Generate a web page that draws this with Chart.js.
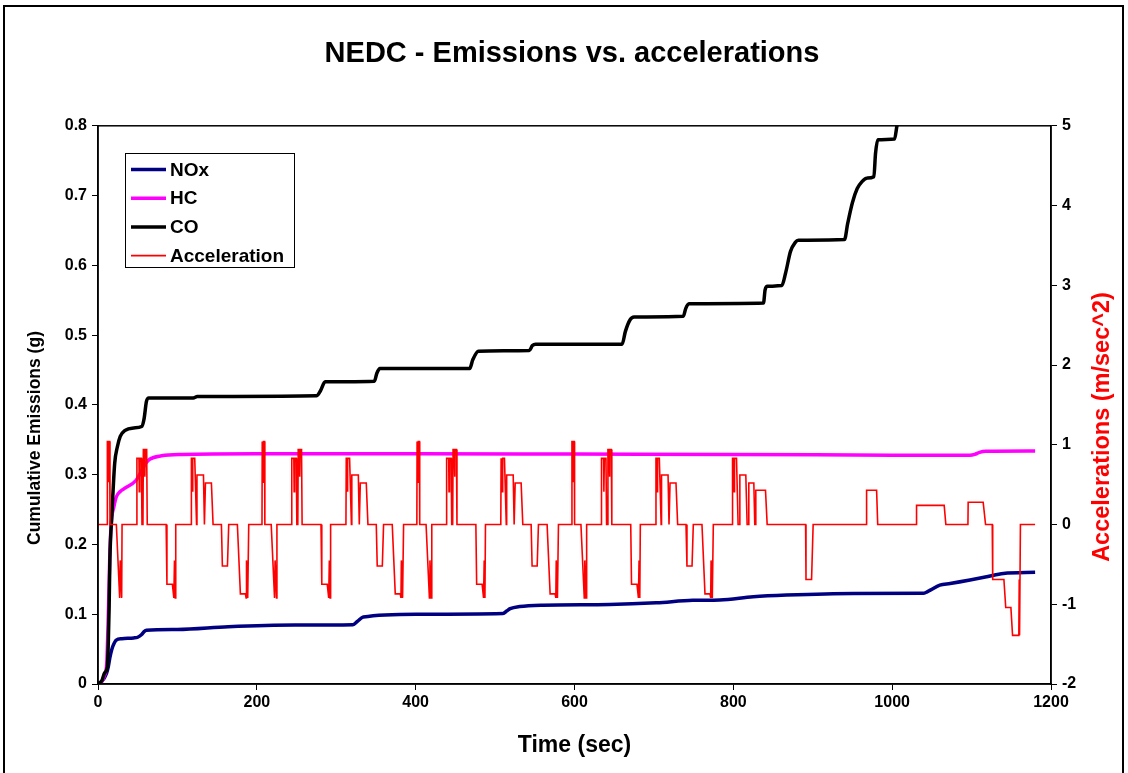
<!DOCTYPE html>
<html>
<head>
<meta charset="utf-8">
<script src="https://cdn.jsdelivr.net/npm/chart.js@4/dist/chart.umd.min.js"></script>
<style>
  html, body { margin: 0; padding: 0; background: #fff; }
</style>
</head>
<body>
<canvas id="myChart" width="1128" height="773"></canvas>
<script>
// cumulative emissions (g) as [time s, value]
const noxData = [[0,0],[5,0.004],[10.6,0.015],[13,0.025],[15,0.038],[17,0.048],[19,0.055],[23,0.063],[30,0.065],[45,0.066],[50,0.067],[55,0.071],[58,0.075],[61,0.077],[100,0.078],[164,0.082],[248,0.0844],[321,0.085],[327,0.09],[334,0.096],[401,0.1],[510,0.101],[515,0.105],[519,0.108],[531,0.111],[560,0.113],[644,0.114],[703,0.1164],[749,0.12],[783,0.1205],[825,0.125],[867,0.1274],[951,0.1298],[1039,0.130],[1044,0.132],[1048,0.1345],[1060,0.1417],[1073,0.144],[1098,0.149],[1119,0.1536],[1140,0.1584],[1180,0.160]];

const hcData = [[0,0],[5,0.004],[8,0.012],[11,0.03],[13,0.1],[15,0.19],[17,0.235],[20,0.254],[23,0.268],[28,0.276],[33,0.28],[48,0.292],[55,0.306],[60,0.316],[65,0.322],[80,0.327],[105,0.329],[200,0.330],[400,0.330],[600,0.3295],[800,0.329],[1000,0.328],[1098,0.3277],[1104,0.329],[1110,0.332],[1118,0.3335],[1180,0.334]];

const coData = [[0,0],[5,0.005],[8.4,0.016],[11.8,0.025],[13,0.06],[14,0.11],[15,0.18],[17.6,0.245],[21,0.316],[24.4,0.34],[28,0.355],[33.6,0.363],[45,0.367],[55,0.369],[58,0.38],[61,0.405],[64,0.41],[120,0.41],[125,0.412],[275,0.413],[280,0.42],[286,0.433],[348,0.434],[351,0.445],[355,0.452],[468,0.452],[472,0.465],[479,0.477],[543,0.478],[547,0.485],[551,0.487],[660,0.487],[664,0.505],[670,0.522],[675,0.526],[737,0.527],[740,0.538],[744,0.545],[838,0.546],[840,0.565],[843,0.57],[861,0.571],[866,0.59],[872,0.62],[878,0.633],[882,0.636],[940,0.637],[944,0.66],[950,0.69],[956,0.71],[962,0.72],[968,0.725],[977,0.727],[979,0.76],[982,0.78],[1003,0.781],[1006,0.8],[1010,0.82],[1040,0.88],[1100,1.0],[1180,1.1]];

// acceleration (m/sec^2) as [time s, value], four ECE cycles then EUDC
const accEce1 = [[0,0],[11.5,0],[11.8,1.04],[12.6,1.04],[13,0.53],[13.4,1.04],[14.7,1.04],[15.1,0],
  [23.1,0],[27.3,-0.92],[28,-0.45],[29.8,-0.92],[30.3,0],
  [48.6,0],[49,0.83],[51.6,0.83],[52,0.41],[52.6,0.83],[54.6,0.83],[55.4,0],[56.6,0],[57.1,0.94],[58.5,0.94],[59,0.6],[59.5,0.94],[61.3,0.94],[62,0],
  [85.8,0],[86.8,-0.75],[93.7,-0.75],[95.5,-0.92],[96.3,-0.45],[97.2,-0.92],[97.9,0],
  [117.2,0],[117.6,0.83],[118.6,0.83],[119,0.41],[119.6,0.83],[121.8,0.83],[124.1,0],[124.6,0.62],[132.8,0.62],[134,0],[135.3,0.52],[142.8,0.52],[144.9,0],
  [155.4,0],[156.6,-0.52],[163,-0.52],[164.6,0],
  [175.5,0],[179.3,-0.87],[185.6,-0.87],[186.5,-0.92],[187,-0.45],[188.5,-0.92],[189.8,0]];
const accEce2 = [[195,0],[206.5,0],[206.8,1.04],[207.6,1.04],[208,0.53],[208.4,1.04],[209.7,1.04],[210.1,0],
  [218.1,0],[222.3,-0.92],[223,-0.45],[224.8,-0.92],[225.3,0],
  [243.6,0],[244,0.83],[246.6,0.83],[247,0.41],[247.6,0.83],[249.6,0.83],[250.4,0],[251.6,0],[252.1,0.94],[253.5,0.94],[254,0.6],[254.5,0.94],[256.3,0.94],[257,0],
  [280.8,0],[281.8,-0.75],[288.7,-0.75],[290.5,-0.92],[291.3,-0.45],[292.2,-0.92],[292.9,0],
  [312.2,0],[312.6,0.83],[313.6,0.83],[314,0.41],[314.6,0.83],[316.8,0.83],[319.1,0],[319.6,0.62],[327.8,0.62],[329,0],[330.3,0.52],[337.8,0.52],[339.9,0],
  [350.4,0],[351.6,-0.52],[358,-0.52],[359.6,0],
  [370.5,0],[374.3,-0.87],[380.6,-0.87],[381.5,-0.92],[382,-0.45],[383.5,-0.92],[384.8,0]];
const accEce3 = [[390,0],[401.5,0],[401.8,1.04],[402.6,1.04],[403,0.53],[403.4,1.04],[404.7,1.04],[405.1,0],
  [413.1,0],[417.3,-0.92],[418,-0.45],[419.8,-0.92],[420.3,0],
  [438.6,0],[439,0.83],[441.6,0.83],[442,0.41],[442.6,0.83],[444.6,0.83],[445.4,0],[446.6,0],[447.1,0.94],[448.5,0.94],[449,0.6],[449.5,0.94],[451.3,0.94],[452,0],
  [475.8,0],[476.8,-0.75],[483.7,-0.75],[485.5,-0.92],[486.3,-0.45],[487.2,-0.92],[487.9,0],
  [507.2,0],[507.6,0.83],[508.6,0.83],[509,0.41],[509.6,0.83],[511.8,0.83],[514.1,0],[514.6,0.62],[522.8,0.62],[524,0],[525.3,0.52],[532.8,0.52],[534.9,0],
  [545.4,0],[546.6,-0.52],[553,-0.52],[554.6,0],
  [565.5,0],[569.3,-0.87],[575.6,-0.87],[576.5,-0.92],[577,-0.45],[578.5,-0.92],[579.8,0]];
const accEce4 = [[585,0],[596.5,0],[596.8,1.04],[597.6,1.04],[598,0.53],[598.4,1.04],[599.7,1.04],[600.1,0],
  [608.1,0],[612.3,-0.92],[613,-0.45],[614.8,-0.92],[615.3,0],
  [633.6,0],[634,0.83],[636.6,0.83],[637,0.41],[637.6,0.83],[639.6,0.83],[640.4,0],[641.6,0],[642.1,0.94],[643.5,0.94],[644,0.6],[644.5,0.94],[646.3,0.94],[647,0],
  [670.8,0],[671.8,-0.75],[678.7,-0.75],[680.5,-0.92],[681.3,-0.45],[682.2,-0.92],[682.9,0],
  [702.2,0],[702.6,0.83],[703.6,0.83],[704,0.41],[704.6,0.83],[706.8,0.83],[709.1,0],[709.6,0.62],[717.8,0.62],[719,0],[720.3,0.52],[727.8,0.52],[729.9,0],
  [740.4,0],[741.6,-0.52],[748,-0.52],[749.6,0],
  [760.5,0],[764.3,-0.87],[770.6,-0.87],[771.5,-0.92],[772,-0.45],[773.5,-0.92],[774.8,0]];
const accEudc = [[780,0],[798.6,0],[799,0.83],[800.5,0.83],[801,0.41],[801.5,0.83],[804,0.83],[806,0],
  [807.8,0],[808.2,0.62],[815.7,0.62],[817.4,0],
  [819.1,0],[819.5,0.52],[825.8,0.52],[827,0],
  [828,0],[828.3,0.43],[840.5,0.43],[842.6,0],
  [891,0],[891.5,-0.69],[898.5,-0.69],[900.5,0],
  [967.5,0],[967.8,0.43],[980.4,0.43],[981.8,0],
  [1030.4,0],[1030.7,0.24],[1065.5,0.24],[1067.6,0],
  [1095.4,0],[1095.7,0.28],[1114.6,0.28],[1117.6,0],
  [1126,0],[1126.6,-0.69],[1140.7,-0.69],[1143,-1.04],[1149.5,-1.04],[1151.6,-1.39],[1159.5,-1.39],[1160,-0.69],[1160.4,-1.39],[1161.5,0],[1180,0]];

const seriesLabels = ['NOx', 'HC', 'CO', 'Acceleration'];
const seriesColors = ['#000080', '#FF00FF', '#000000', '#FF0000'];
const chartTitle = 'NEDC - Emissions vs. accelerations';
const xTitle = 'Time (sec)';
const yTitle = 'Cumulative Emissions (g)';
const y2Title = 'Accelerations (m/sec^2)';

const FONT = "'Liberation Sans', Arial, sans-serif";

function toPoints(pairs) {
    return pairs.map(p => ({ x: p[0], y: p[1] }));
}

const accData = [].concat(accEce1, accEce2, accEce3, accEce4, accEudc);

function verticalText(ctx, text, x, y, size, color) {
    ctx.save();
    ctx.translate(x, y);
    ctx.rotate(-Math.PI / 2);
    ctx.font = 'bold ' + size + 'px ' + FONT;
    ctx.fillStyle = color;
    ctx.textAlign = 'center';
    ctx.textBaseline = 'middle';
    ctx.fillText(text, 0, 0);
    ctx.restore();
}

// white page, outer frame, plot frame, legend, y axis titles
const decorations = {
    id: 'decorations',
    beforeDraw(chart) {
        const ctx = chart.ctx;
        ctx.save();
        ctx.fillStyle = '#fff';
        ctx.fillRect(0, 0, chart.width, chart.height);
        ctx.restore();
    },
    afterDraw(chart) {
        const ctx = chart.ctx;
        const a = chart.chartArea;
        ctx.save();
        ctx.strokeStyle = '#000';
        ctx.lineWidth = 2;
        ctx.strokeRect(4, 6, 1119, 800);
        ctx.lineWidth = 1.5;
        ctx.strokeRect(a.left, a.top, a.right - a.left, a.bottom - a.top);

        // legend
        ctx.fillStyle = '#fff';
        ctx.fillRect(125.5, 153.5, 169, 114);
        ctx.lineWidth = 1;
        ctx.strokeRect(125.5, 153.5, 169, 114);
        ctx.font = 'bold 19px ' + FONT;
        ctx.textBaseline = 'middle';
        chart.data.datasets.forEach((ds, i) => {
            const yy = 169.5 + i * 28.7;
            ctx.strokeStyle = ds.borderColor;
            ctx.lineWidth = ds.borderWidth;
            ctx.beginPath();
            ctx.moveTo(131, yy);
            ctx.lineTo(166, yy);
            ctx.stroke();
            ctx.fillStyle = '#000';
            ctx.fillText(ds.label, 170, yy + 1);
        });
        ctx.restore();

        verticalText(ctx, yTitle, 35, 438, 17.5, '#000');
        verticalText(ctx, y2Title, 1103, 427, 23.5, '#FF0000');
    }
};

const tickFont = { family: FONT, size: 16, weight: 'bold' };

new Chart(document.getElementById('myChart'), {
    type: 'line',
    data: {
        datasets: [
            { label: seriesLabels[0], data: toPoints(noxData), borderColor: seriesColors[0], borderWidth: 3.5, yAxisID: 'y', order: 3, cubicInterpolationMode: 'monotone' },
            { label: seriesLabels[1], data: toPoints(hcData), borderColor: seriesColors[1], borderWidth: 3.5, yAxisID: 'y', order: 2, cubicInterpolationMode: 'monotone' },
            { label: seriesLabels[2], data: toPoints(coData), borderColor: seriesColors[2], borderWidth: 3.5, yAxisID: 'y', order: 1, cubicInterpolationMode: 'monotone' },
            { label: seriesLabels[3], data: toPoints(accData), borderColor: seriesColors[3], borderWidth: 1.6, yAxisID: 'y2', order: 0 }
        ]
    },
    options: {
        responsive: false,
        animation: false,
        layout: { padding: { left: 16, right: 0, top: 0, bottom: 0 } },
        elements: { point: { radius: 0 }, line: { fill: false } },
        plugins: {
            legend: { display: false },
            tooltip: { enabled: false },
            title: {
                display: true,
                text: chartTitle,
                color: '#000',
                font: { family: FONT, size: 29, weight: 'bold' },
                padding: { top: 37, bottom: 54 }
            }
        },
        scales: {
            x: {
                type: 'linear',
                min: 0,
                max: 1200,
                ticks: { stepSize: 200, color: '#000', font: tickFont, padding: 3, maxRotation: 0, callback: v => String(v) },
                grid: { drawOnChartArea: false, drawTicks: true, tickLength: 6, color: '#000' },
                border: { display: true, color: '#000', width: 1.5 },
                title: { display: true, text: xTitle, color: '#000', font: { family: FONT, size: 23, weight: 'bold' }, padding: { top: 0, bottom: 14 } },
                afterFit: s => { s.height = 89; }
            },
            y: {
                position: 'left',
                min: 0,
                max: 0.8,
                ticks: { stepSize: 0.1, color: '#000', font: tickFont, padding: 5 },
                grid: { drawOnChartArea: false, drawTicks: true, tickLength: 6, color: '#000' },
                border: { display: true, color: '#000', width: 1.5 },
                afterFit: s => { s.width = 82; }
            },
            y2: {
                position: 'right',
                min: -2,
                max: 5,
                ticks: { stepSize: 1, color: '#000', font: tickFont, padding: 5 },
                grid: { drawOnChartArea: false, drawTicks: true, tickLength: 6, color: '#000' },
                border: { display: true, color: '#000', width: 1.5 },
                afterFit: s => { s.width = 77; }
            }
        }
    },
    plugins: [decorations]
});
</script>
</body>
</html>
